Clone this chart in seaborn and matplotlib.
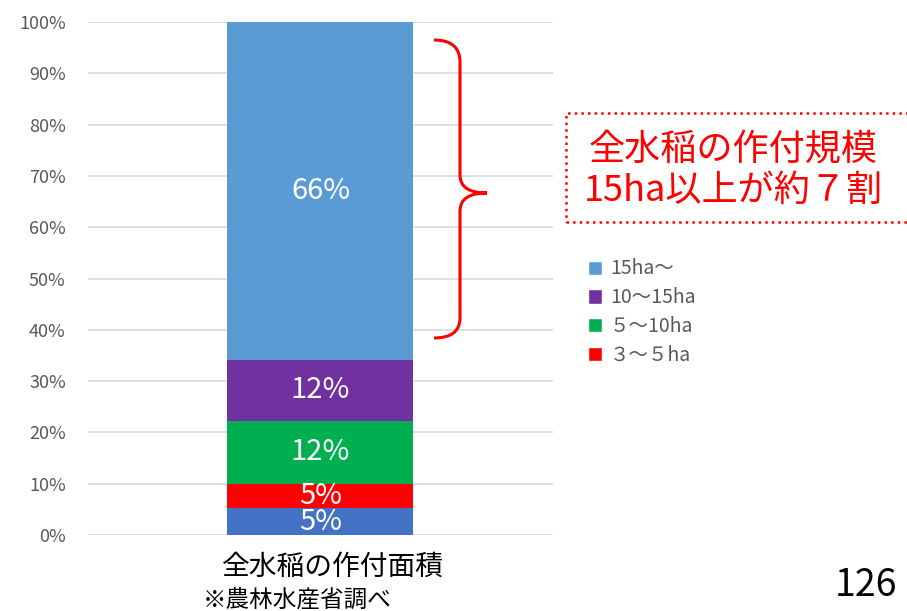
import numpy as np
import pandas as pd
import seaborn as sns
import matplotlib.pyplot as plt
from matplotlib.path import Path
from matplotlib.patches import PathPatch, Rectangle, Patch

# data (shares of total rice planted area, %)
categories = ['〜3ha', '３〜５ha', '５〜10ha', '10〜15ha', '15ha〜']
shares = [5.2, 4.7, 12.4, 11.9, 65.8]
labels = ['5%', '5%', '12%', '12%', '66%']
colors = ['#4472C4', '#FF0000', '#00B050', '#7030A0', '#5B9BD5']
legend_names = ['15ha〜', '10〜15ha', '５〜10ha', '３〜５ha']
group = '全水稲の作付面積'

sns.set_theme(style='white')
plt.rcParams['font.family'] = ['Noto Sans CJK JP', 'DejaVu Sans']

W, H = 907, 611
fig = plt.figure(figsize=(W / 100, H / 100), dpi=100)
ax = fig.add_axes([88 / W, 1 - 535 / H, (553 - 88) / W, (535 - 22) / H])

df = pd.DataFrame({'cat': categories, 'share': shares, 'color': colors, 'label': labels})
df['top'] = df['share'].cumsum()
df['mid'] = df['top'] - df['share'] / 2
df['x'] = group

# stacked bar: draw cumulative bars from the tallest down
for i in range(len(df) - 1, -1, -1):
    sns.barplot(data=df.iloc[[i]], x='x', y='top', color=df['color'][i],
                width=0.4, saturation=1, linewidth=0, ax=ax, zorder=2)

for _, r in df.iterrows():
    ax.text(0, r['mid'], r['label'], ha='center', va='center', color='white',
            fontsize=21, zorder=3)

ax.set_ylim(0, 100)
ax.set_xlim(-0.5, 0.5)
ax.set_yticks(np.arange(0, 101, 10))
ax.set_yticklabels([f'{v}%' for v in range(0, 101, 10)], color='#595959', fontsize=13)
ax.tick_params(axis='y', pad=16, length=0)
ax.tick_params(axis='x', length=0)
ax.grid(axis='y', color='#D9D9D9', lw=1.2, zorder=0)
ax.set_axisbelow(True)
for s in ax.spines.values():
    s.set_visible(False)
ax.set_xticklabels([])
ax.set_xlabel('')
ax.set_ylabel('')

fig.text(333 / W, 1 - 567 / H, group, ha='center', va='center', fontsize=20, color='black')
fig.text(203 / W, 1 - 600 / H, '※農林水産省調べ', ha='left', va='center', fontsize=17, color='black')
fig.text(866 / W, 1 - 586 / H, '126', ha='center', va='center', fontsize=27, color='black')


def px(x, y):
    return (x / W, 1 - y / H)


# curly brace over the 15ha+ segment
verts = [px(434, 40), px(460, 40), px(460, 62), px(460, 175),
         px(460, 193), px(487, 193),
         px(460, 193), px(460, 211), px(460, 318),
         px(460, 338), px(434, 338)]
codes = [Path.MOVETO, Path.CURVE3, Path.CURVE3, Path.LINETO,
         Path.CURVE3, Path.CURVE3,
         Path.CURVE3, Path.CURVE3, Path.LINETO,
         Path.CURVE3, Path.CURVE3]
fig.add_artist(PathPatch(Path(verts, codes), transform=fig.transFigure,
                         fill=False, edgecolor='#FF0000', lw=2.2))

# dotted callout box
fig.add_artist(Rectangle(px(566, 222), 360 / W, 109 / H, transform=fig.transFigure,
                         fill=False, edgecolor='#FF0000', lw=1.8, ls=':', clip_on=False))
fig.text(733 / W, 1 - 150 / H, '全水稲の作付規模', ha='center', va='center',
         fontsize=26, color='#FF0000')
fig.text(733 / W, 1 - 191 / H, '15ha以上が約７割', ha='center', va='center',
         fontsize=26, color='#FF0000')

handles = [Patch(facecolor=c) for c in colors[::-1][:4]]
fig.legend(handles, legend_names, loc='upper left', bbox_to_anchor=(570 / W, 1 - 241 / H),
           frameon=False, fontsize=14, labelcolor='#595959', handlelength=0.75,
           handleheight=0.75, handletextpad=0.4, labelspacing=0.4)

fig.savefig('out.png', dpi=100)
